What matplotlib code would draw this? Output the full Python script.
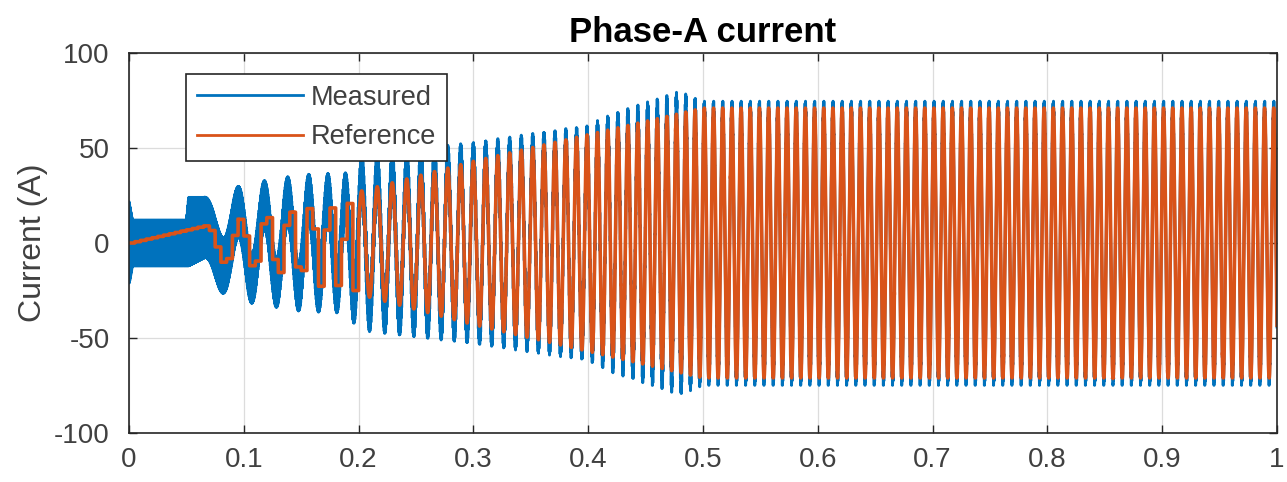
# Phase-A current: measured vs reference (MATLAB-style figure)

import numpy as np
import matplotlib.pyplot as plt

plt.rcParams['font.family'] = ['Liberation Sans', 'DejaVu Sans']
plt.rcParams['axes.unicode_minus'] = False
plt.rcParams['agg.path.chunksize'] = 10000

# --- values ---
# electrical frequency of the current (Hz) over time (s)
t_freq = [0.0, 0.065, 0.066, 0.1, 0.15, 0.2, 0.3, 0.4, 0.5, 1.0]
freq_hz = [0, 0, 28, 42, 55, 72, 92, 110, 125, 125]

# peak of the reference current (A)
t_ref = [0.0, 0.065, 0.1, 0.15, 0.2, 0.3, 0.4, 0.5, 1.0]
ref_peak = [0, 9, 13, 21, 27, 43, 57, 71, 71]

# peak of the measured current incl. ripple (A)
t_meas = [0.0, 0.003, 0.05, 0.052, 0.065, 0.08, 0.1, 0.15, 0.19, 0.2,
          0.3, 0.4, 0.42, 0.48, 0.5, 1.0]
meas_peak = [22, 12, 12, 24, 24, 26, 31, 36, 37, 46, 53, 62, 68, 80, 75, 75]

# switching ripple amplitude on the measured current (A)
t_rip = [0.0, 0.003, 0.05, 0.052, 0.065, 0.1, 0.2, 0.3, 0.5, 1.0]
ripple_peak = [22, 12, 12, 18, 16, 13, 12, 8, 3, 2.5]

ripple_hz = 2500       # switching ripple frequency
ref_hold = 0.005       # reference is held (ZOH) in the start-up part
hold_until = 0.2

# --- build the waveforms from the read values ---
dt = 5e-6
t = np.arange(0, 1.0 + dt, dt)
f = np.interp(t, t_freq, freq_hz)
phase = np.pi / 2 + 2 * np.pi * np.cumsum(f) * dt

# reference: zero-order hold during start-up, smooth afterwards
idx = np.arange(len(t))
hold_idx = (np.floor(t / ref_hold) * ref_hold / dt).astype(int)
idx = np.where(t < hold_until, hold_idx, idx)
reference = np.interp(t[idx], t_ref, ref_peak) * np.sin(phase[idx])

rip = np.interp(t, t_rip, ripple_peak)
fund = np.clip(np.interp(t, t_meas, meas_peak) - rip, 0, None)
measured = fund * np.sin(phase) + rip * np.sin(2 * np.pi * ripple_hz * t)

# --- plot ---
fig = plt.figure(figsize=(12.87, 4.82), dpi=100)
ax = fig.add_axes([129 / 1287, 1 - 433 / 482, 1148 / 1287, 380 / 482])

ax.plot(t, measured, color='#0072BD', lw=2.1, label='Measured')
ax.plot(t, reference, color='#D95319', lw=2.6, label='Reference')

ax.set_xlim(0, 1)
ax.set_ylim(-100, 100)
ax.set_xticks(np.arange(0, 1.01, 0.1))
ax.set_xticklabels(['0', '0.1', '0.2', '0.3', '0.4', '0.5', '0.6', '0.7', '0.8', '0.9', '1'])
ax.set_yticks([-100, -50, 0, 50, 100])

ax.grid(True, color='#dcdcdc', lw=0.9)
ax.set_axisbelow(True)
for sp in ax.spines.values():
    sp.set_color('#262626')
    sp.set_linewidth(1.2)
ax.tick_params(direction='in', length=6, width=1.0, colors='#262626',
               labelsize=20, top=True, right=True)
ax.tick_params(axis='x', pad=10)
ax.tick_params(axis='y', pad=14)
for lbl in ax.get_xticklabels() + ax.get_yticklabels():
    lbl.set_color('#404040')

ax.set_title('Phase-A current', fontsize=25, fontweight='bold', pad=8)
ax.set_ylabel('Current (A)', fontsize=23, color='#404040', labelpad=4)

leg = ax.legend(loc='upper left', bbox_to_anchor=(0.05, 0.945), borderaxespad=0,
                fontsize=19.5, handlelength=3.9, handletextpad=0.3,
                labelspacing=0.5, borderpad=0.4, fancybox=False, framealpha=1)
leg.get_frame().set_edgecolor('#262626')
leg.get_frame().set_linewidth(1.2)
for line in leg.get_lines():
    line.set_linewidth(2.0)
for txt in leg.get_texts():
    txt.set_color('#404040')

fig.savefig('out.png', dpi=100)
